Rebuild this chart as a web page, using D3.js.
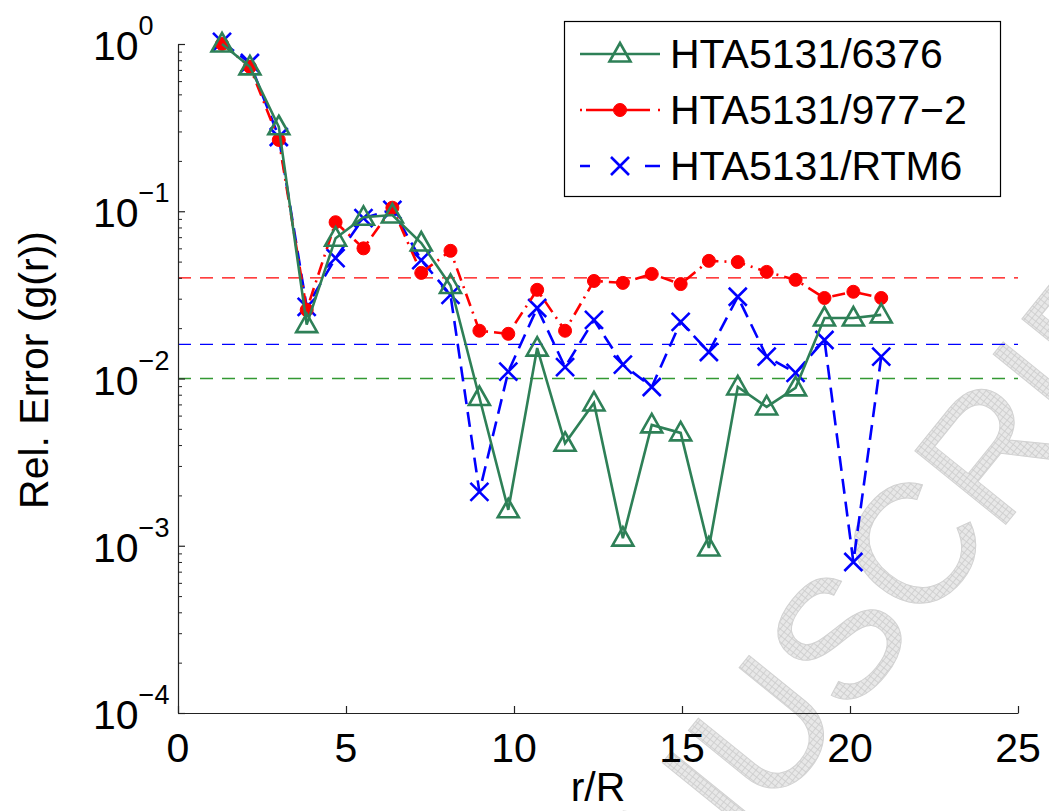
<!DOCTYPE html>
<html>
<head>
<meta charset="utf-8">
<script src="https://cdn.jsdelivr.net/npm/d3@7/dist/d3.min.js"></script>
<style>
  html, body { margin: 0; padding: 0; background: #fff; }
  svg { display: block; font-family: "Liberation Sans", Arial, sans-serif; }
</style>
</head>
<body>
<svg id="chart" width="1049" height="811"></svg>
<script>
// ---- data ----
const rOverR = [1.31, 2.14, 3.0, 3.83, 4.69, 5.52, 6.38, 7.24, 8.11, 8.97, 9.83, 10.69,
                11.52, 12.38, 13.24, 14.1, 14.96, 15.8, 16.66, 17.52, 18.38, 19.24, 20.1, 20.93];
const err6376 = [1.0, 0.73, 0.32, 0.021, 0.069, 0.092, 0.095, 0.0646, 0.036, 0.0077, 0.00164, 0.0152,
                 0.0041, 0.00714, 0.00111, 0.00528, 0.00473, 0.00097, 0.0089, 0.00676, 0.00879, 0.023, 0.023, 0.024];
const err977 = [1.0, 0.73, 0.267, 0.0257, 0.086, 0.060, 0.105, 0.0428, 0.058, 0.0193, 0.0185, 0.0339,
                0.0193, 0.0383, 0.0373, 0.0422, 0.0367, 0.0505, 0.0497, 0.0434, 0.0389, 0.0303, 0.033, 0.0303];
const errRTM6 = [1.03, 0.77, 0.278, 0.0268, 0.0525, 0.091, 0.102, 0.051, 0.0316, 0.0021, 0.011, 0.0264,
                 0.0117, 0.0224, 0.0121, 0.0089, 0.0218, 0.0144, 0.0308, 0.0135, 0.0108, 0.017, 0.0008, 0.0135];
const seriesNames = ["HTA5131/6376", "HTA5131/977\u22122", "HTA5131/RTM6"];
const refLevels = [0.04, 0.016, 0.01];           // red, blue, green dashed reference lines
const xTicks = [0, 5, 10, 15, 20, 25];
const yExponents = [0, -1, -2, -3, -4];
const xLabel = "r/R";
const yLabel = "Rel. Error (g(r))";
const watermark = "ACCEPTED MANUSCRIPT";

// ---- layout ----
const svg = d3.select("#chart");
const x = d3.scaleLinear().domain([0, 25]).range([178, 1018]);
const y = d3.scaleLog().domain([1e-4, 1]).range([713, 44]);

const GREEN = "#2e8057", RED = "#ff0000", BLUE = "#0000ff";
const REFCOL = ["#ff0000", "#0000ff", "#339933"];

// watermark pattern
const defs = svg.append("defs");
const pat = defs.append("pattern").attr("id", "hatch").attr("patternUnits", "userSpaceOnUse")
  .attr("width", 5).attr("height", 5);
pat.append("rect").attr("width", 5).attr("height", 5).attr("fill", "#e8e8e8");
pat.append("path").attr("d", "M0,0.5H5M0.5,0V5").attr("stroke", "#cbcbcb").attr("stroke-width", 0.8);

svg.append("text")
  .attr("transform", "translate(-79,1864) rotate(-51)")
  .attr("font-size", 170)
  .attr("fill", "url(#hatch)")
  .attr("stroke", "#d2d2d2").attr("stroke-width", 1)
  .text(watermark);

// reference lines
svg.append("g").selectAll("line").data(refLevels).join("line")
  .attr("x1", x(0)).attr("x2", x(25))
  .attr("y1", d => y(d)).attr("y2", d => y(d))
  .attr("stroke", (d, i) => REFCOL[i]).attr("stroke-width", 1.3)
  .attr("stroke-dasharray", "13,9");

// axes
const xAxis = d3.axisBottom(x).tickValues(xTicks).tickSizeInner(-7).tickSizeOuter(0).tickFormat("");
const gx = svg.append("g").attr("transform", `translate(0,${y(1e-4)})`).call(xAxis);
gx.selectAll("path,line").attr("stroke", "#222").attr("stroke-width", 1.2);

const yAxis = d3.axisLeft(y).tickValues(yExponents.map(e => Math.pow(10, e)))
  .tickSizeInner(-7).tickSizeOuter(0).tickFormat("");
const gy = svg.append("g").attr("transform", `translate(${x(0)},0)`).call(yAxis);
gy.selectAll("path,line").attr("stroke", "#222").attr("stroke-width", 1.2);

const minor = [];
for (let e = -4; e < 0; e++) for (let k = 2; k <= 9; k++) minor.push(k * Math.pow(10, e));
const gym = svg.append("g").attr("transform", `translate(${x(0)},0)`)
  .call(d3.axisLeft(y).tickValues(minor).tickSizeInner(-4).tickSizeOuter(0).tickFormat(""));
gym.select("path").remove();
gym.selectAll("line").attr("stroke", "#222").attr("stroke-width", 1);

// tick labels
svg.append("g").selectAll("text").data(xTicks).join("text")
  .attr("x", d => x(d)).attr("y", 762).attr("text-anchor", "middle")
  .attr("font-size", 41).attr("fill", "#000").text(d => d);

const yl = svg.append("g").selectAll("text").data(yExponents).join("text")
  .attr("x", 93).attr("y", d => y(Math.pow(10, d)) + 16)
  .attr("font-size", 41).attr("fill", "#000");
yl.append("tspan").text("10");
yl.append("tspan").attr("dy", -25).attr("font-size", 27)
  .text(d => (d < 0 ? "\u2212" : "") + Math.abs(d));

// axis titles
svg.append("text").attr("x", 598).attr("y", 801).attr("text-anchor", "middle")
  .attr("font-size", 41).text(xLabel);
svg.append("text").attr("transform", "translate(48,370) rotate(-90)")
  .attr("text-anchor", "middle").attr("font-size", 41).text(yLabel);

// ---- series ----
const line = d3.line().x(d => x(d[0])).y(d => y(d[1]));
const zipped = arr => rOverR.map((r, i) => [r, arr[i]]);

function triangle(g) {
  g.append("path").attr("d", "M0,-11L10.5,7.5L-10.5,7.5Z")
    .attr("fill", "none").attr("stroke", GREEN).attr("stroke-width", 2.6);
}
function circle(g) {
  g.append("circle").attr("r", 6.5).attr("fill", RED).attr("stroke", RED).attr("stroke-width", 1);
}
function cross(g) {
  g.append("path").attr("d", "M-9,-9L9,9M-9,9L9,-9")
    .attr("stroke", BLUE).attr("stroke-width", 2.6).attr("fill", "none");
}

const series = [
  { data: errRTM6, color: BLUE, dash: "15,8", marker: cross, width: 2.6 },
  { data: err977, color: RED, dash: "13,6,2,6", marker: circle, width: 2.6 },
  { data: err6376, color: GREEN, dash: null, marker: triangle, width: 2.6 }
];

series.forEach(s => {
  svg.append("path").datum(zipped(s.data)).attr("d", line)
    .attr("fill", "none").attr("stroke", s.color).attr("stroke-width", s.width)
    .attr("stroke-dasharray", s.dash);
  svg.append("g").selectAll("g").data(zipped(s.data)).join("g")
    .attr("transform", d => `translate(${x(d[0])},${y(d[1])})`)
    .each(function () { s.marker(d3.select(this)); });
});

// ---- legend ----
const lg = svg.append("g");
lg.append("rect").attr("x", 564.5).attr("y", 21.5).attr("width", 436).attr("height", 175)
  .attr("fill", "#fff").attr("stroke", "#000").attr("stroke-width", 1.2);
const legendItems = [
  { name: seriesNames[0], color: GREEN, dash: null, marker: triangle },
  { name: seriesNames[1], color: RED, dash: "2,4,64,8,2", marker: circle },
  { name: seriesNames[2], color: BLUE, dash: "10,55,15", marker: cross }
];
legendItems.forEach((it, i) => {
  const cy = 54 + i * 56;
  lg.append("line").attr("x1", 580).attr("x2", 660).attr("y1", cy).attr("y2", cy)
    .attr("stroke", it.color).attr("stroke-width", 2.4).attr("stroke-dasharray", it.dash);
  const mg = lg.append("g").attr("transform", `translate(620,${cy})`);
  it.marker(mg);
  lg.append("text").attr("x", 670).attr("y", cy + 14).attr("font-size", 41).text(it.name);
});
</script>
</body>
</html>
